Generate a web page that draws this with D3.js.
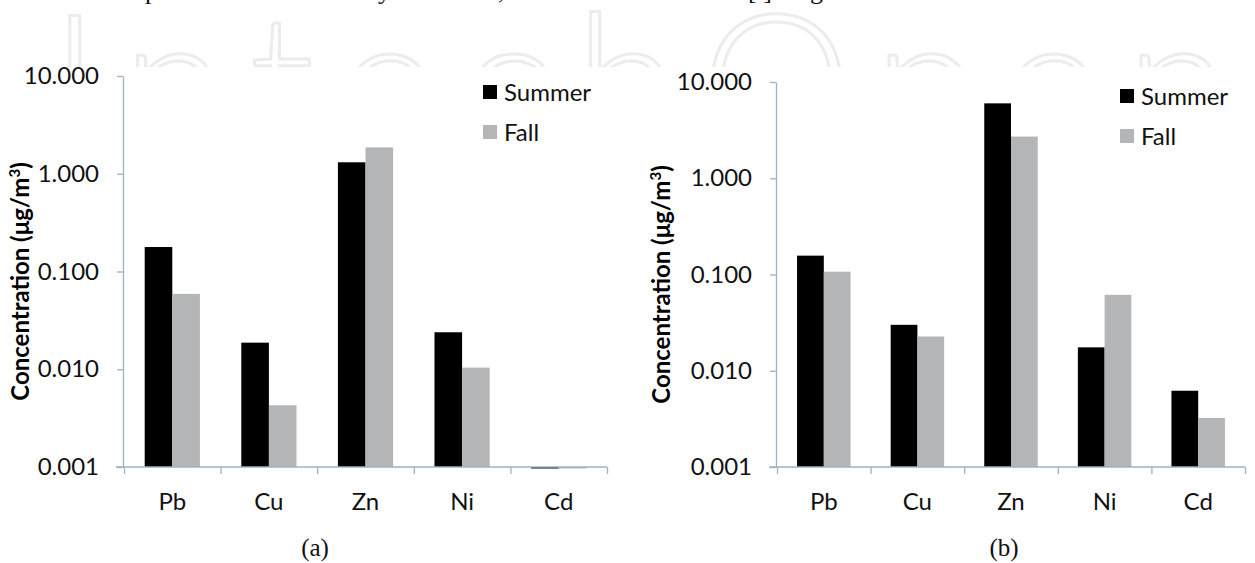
<!DOCTYPE html>
<html>
<head>
<meta charset="utf-8">
<script src="https://cdn.jsdelivr.net/npm/d3@7"></script>
<style>
  body { margin: 0; background: #fff; }
  svg { display: block; }
  .tick text { font-family: Lato, "Open Sans", sans-serif; }
</style>
</head>
<body>
<div class="chart"></div>
<script>
// data
const metals = ["Pb", "Cu", "Zn", "Ni", "Cd"];
const seasons = ["Summer", "Fall"];
const summerA = [0.178, 0.0187, 1.31, 0.0239, 0.00097];
const fallA = [0.059, 0.00428, 1.86, 0.0104, 0.00097];
const summerB = [0.157, 0.030, 6.0, 0.0175, 0.0062];
const fallB = [0.107, 0.0227, 2.71, 0.0615, 0.00323];
const yTicks = [0.001, 0.01, 0.1, 1, 10];
const panelLabels = ["(a)", "(b)"];

const W = 1255, H = 563;
const colors = {Summer: "#000000", Fall: "#b3b5b6"};
const axisColor = "#9db3bf";

const svg = d3.select(".chart").append("svg")
  .attr("width", W).attr("height", H);

// watermark, clipped like in the scan
svg.append("clipPath").attr("id", "wm")
  .append("rect").attr("x", 0).attr("y", 0).attr("width", W).attr("height", 67);
svg.append("text")
  .attr("clip-path", "url(#wm)")
  .attr("x", 50).attr("y", 150)
  .attr("textLength", 1180)
  .attr("lengthAdjust", "spacing")
  .style("font-family", "Lato, sans-serif")
  .style("font-size", "190px")
  .style("font-weight", 300)
  .attr("fill", "#fff")
  .attr("stroke", "#ececec")
  .attr("stroke-width", 3)
  .text("IntechOpen");

// descenders of the cut-off line of body text above the figure
const cutText = [[145, "p"], [378, "y"], [498, ","], [748, "[ ]"], [810, "g"]];
svg.append("g").selectAll("text").data(cutText).join("text")
  .attr("x", d => d[0]).attr("y", -1)
  .style("font-family", "'Liberation Serif', serif")
  .style("font-size", "26px")
  .attr("fill", "#111")
  .text(d => d[1]);

const panels = [
  {summer: summerA, fall: fallA, x0: 124, x1: 607, yTop: 76, yBot: 467,
   titleX: 21, legX: 483, legY: 85, capX: 315},
  {summer: summerB, fall: fallB, x0: 777, x1: 1245, yTop: 82, yBot: 467,
   titleX: 662, legX: 1120, legY: 89, capX: 1004}
];

panels.forEach((p, i) => {
  const g = svg.append("g");
  const x = d3.scaleBand().domain(metals).range([p.x0, p.x1]);
  const y = d3.scaleLog().domain([0.001, 10]).range([p.yBot, p.yTop]);
  const bw = x.bandwidth() / 3.5;

  const rows = metals.map((m, k) => ({m, Summer: p.summer[k], Fall: p.fall[k]}));

  // bars
  seasons.forEach((s, j) => {
    g.append("g").selectAll("rect").data(rows).join("rect")
      .attr("x", d => x(d.m) + x.bandwidth() / 2 - bw + j * bw)
      .attr("width", bw)
      .attr("y", d => Math.min(y(d[s]), y(0.001)))
      .attr("height", d => Math.max(1.5, Math.abs(y(0.001) - y(d[s]))))
      .attr("fill", colors[s]);
  });

  // y axis
  const ya = g.append("g")
    .attr("transform", `translate(${p.x0 - 1},0)`)
    .call(d3.axisLeft(y).tickValues(yTicks).tickFormat(d3.format(".3f"))
      .tickSize(6).tickSizeOuter(0).tickPadding(18));
  ya.selectAll(".domain, .tick line").attr("stroke", axisColor).attr("stroke-width", 1.3);
  ya.selectAll(".tick text").style("font-size", "24px").attr("fill", "#111");

  // x axis: ticks between categories
  const xb = d3.scaleLinear().domain([0, metals.length]).range([p.x0, p.x1]);
  const xa = g.append("g")
    .attr("transform", `translate(0,${p.yBot})`)
    .call(d3.axisBottom(xb).ticks(metals.length).tickFormat("").tickSize(7).tickSizeOuter(0));
  xa.selectAll(".domain, .tick line").attr("stroke", axisColor).attr("stroke-width", 1.3);
  xa.select(".domain").attr("d", `M${p.x0 - 8},0H${p.x1}`);

  // category labels
  g.append("g").selectAll("text").data(metals).join("text")
    .attr("x", d => x(d) + x.bandwidth() / 2)
    .attr("y", p.yBot + 43)
    .attr("text-anchor", "middle")
    .style("font-family", "Lato, sans-serif")
    .style("font-size", "24px")
    .attr("fill", "#111")
    .text(d => d);

  // y title
  g.append("text")
    .attr("transform", `translate(${p.titleX},${(p.yTop + p.yBot) / 2 + 10}) rotate(-90)`)
    .attr("text-anchor", "middle")
    .attr("dy", "0.35em")
    .style("font-family", "Lato, sans-serif")
    .style("font-size", "24px")
    .style("font-weight", "bold")
    .attr("fill", "#000")
    .html("Concentration (μg/m<tspan dy='-9' font-size='15px'>3</tspan><tspan dy='9'>)</tspan>");

  // legend
  const lg = g.append("g").attr("transform", `translate(${p.legX},${p.legY})`);
  seasons.forEach((s, j) => {
    lg.append("rect").attr("x", 0).attr("y", j * 40).attr("width", 14).attr("height", 14)
      .attr("fill", colors[s]);
    lg.append("text").attr("x", 21).attr("y", j * 40 + 16)
      .style("font-family", "Lato, sans-serif")
      .style("font-size", "24px")
      .attr("fill", "#111")
      .text(s);
  });

  // caption
  g.append("text")
    .attr("x", p.capX).attr("y", 556)
    .attr("text-anchor", "middle")
    .style("font-family", "'Liberation Serif', serif")
    .style("font-size", "25px")
    .attr("fill", "#111")
    .text(panelLabels[i]);
});
</script>
</body>
</html>
